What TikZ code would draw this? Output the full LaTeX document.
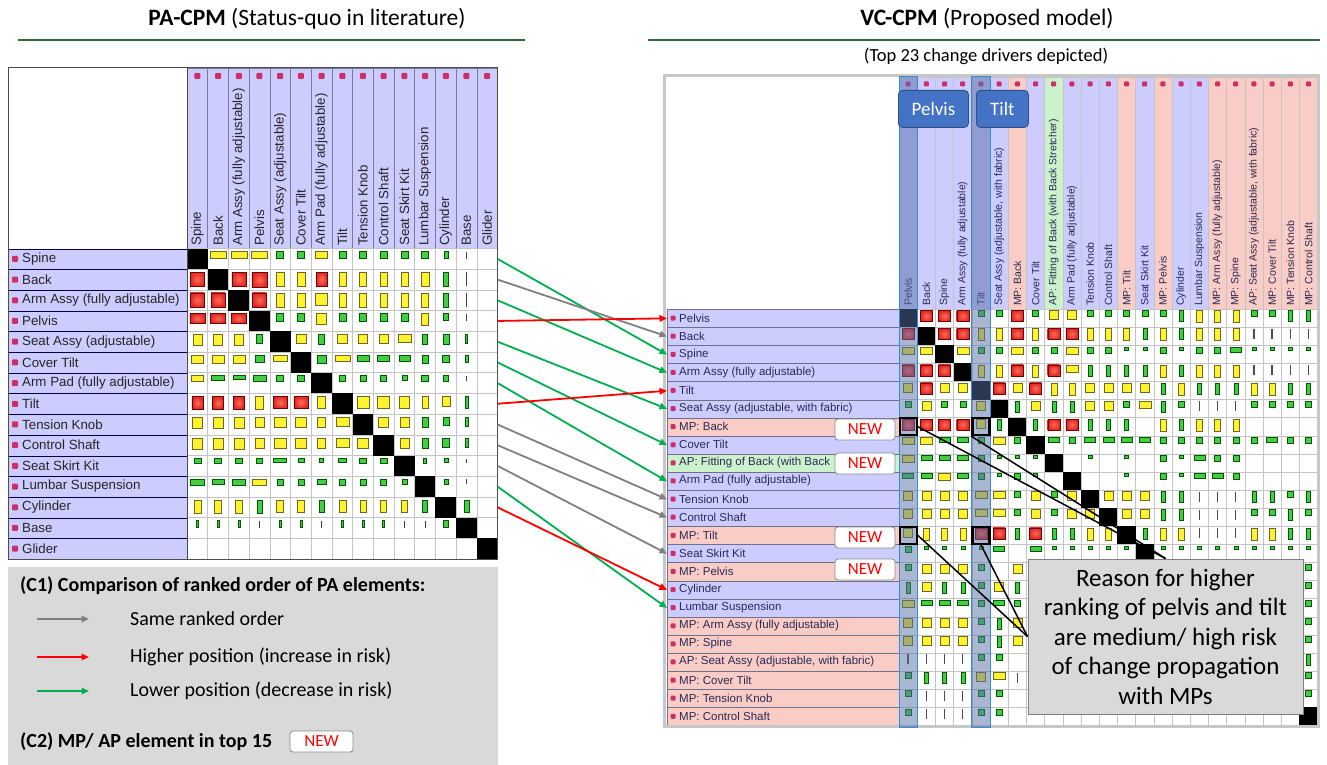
\documentclass[tikz,border=0pt]{standalone}
\usepackage{fontspec}
\setmainfont{Carlito}
\newfontfamily\arialfont{Liberation Sans}
\usetikzlibrary{arrows.meta,positioning,calc}
\definecolor{lavender}{HTML}{CCCCFF}
\definecolor{mppink}{HTML}{F9CCC6}
\definecolor{apgreen}{HTML}{CCF2CC}
\definecolor{dotmag}{HTML}{CC2E66}
\definecolor{rulegreen}{HTML}{2F6B34}
\definecolor{riskred}{HTML}{E02A24}
\definecolor{riskredlight}{HTML}{FF6A5A}
\definecolor{riskyellow}{HTML}{FFF22E}
\definecolor{riskgreen}{HTML}{45CC45}
\definecolor{legendgray}{HTML}{D9D9D9}
\definecolor{arrowgray}{HTML}{808080}
\definecolor{arrowred}{HTML}{FF0000}
\definecolor{arrowgreen}{HTML}{00B050}
\definecolor{tagblue}{HTML}{4472C4}
\definecolor{hlblue}{HTML}{5470A8}
\definecolor{labtext}{HTML}{2A2A55}
\definecolor{gridline}{HTML}{C4C4C4}
\tikzset{
  headtitle/.style={font=\fontsize{23.5}{28}\selectfont},
  subtitle/.style={font=\fontsize{18.5}{22}\selectfont},
  titlerule/.style={draw=rulegreen, line width=2pt},
  legendhead/.style={anchor=west, inner sep=0pt, font=\bfseries\fontsize{20}{24}\selectfont},
  legendtext/.style={anchor=west, inner sep=0pt, font=\fontsize{20}{24}\selectfont},
  % arrows between the two matrices
  rankarrow/.style={line width=1.8pt, -{Triangle[length=7.5pt,width=6.5pt]}},
  samearrow/.style={rankarrow, draw=arrowgray},
  uparrow/.style={rankarrow, draw=arrowred},
  downarrow/.style={rankarrow, draw=arrowgreen},
  mdot/.style={fill=dotmag, inner sep=0pt, minimum size=6pt, rounded corners=1pt},
  % PA-CPM matrix
  paframe/.style={draw=black!70, line width=1pt},
  lgrid/.style={draw=gridline, line width=0.6pt},
  llabel/.style={fill=lavender, draw=black!70!blue, line width=0.8pt, inner sep=0pt,
    minimum width=179pt, minimum height=20.7pt},
  ltext/.style={anchor=west, inner sep=0pt, text=black!85, font=\arialfont\fontsize{13.3}{15}\selectfont},
  lhead/.style={rotate=90, anchor=west, inner sep=0pt, text=black!85, font=\arialfont\fontsize{13.3}{15}\selectfont},
  lcell/.style={anchor=north, inner sep=0pt, outer sep=0pt, line width=0.5pt},
  lc-r/.style={inner color=riskredlight, outer color=riskred, draw=red!45!black},
  lc-y/.style={fill=riskyellow, draw=olive!70!black},
  lc-g/.style={fill=riskgreen, draw=green!35!black},
  lc-d/.style={fill=black!75},
  lc-k/.style={fill=black, yshift=3pt},
  lc-n/.style={},
  % VC-CPM matrix
  rframe/.style={draw=black!22, line width=3pt},
  kind-b/.style={fill=lavender},
  kind-p/.style={fill=mppink},
  kind-a/.style={fill=apgreen},
  rlabel/.style={draw=black!45!lavender, line width=0.6pt, inner sep=0pt,
    minimum width=232pt, minimum height=18.1pt},
  rtext/.style={anchor=west, inner sep=0pt, text=labtext, font=\arialfont\fontsize{11.5}{13}\selectfont},
  rhead/.style={rotate=90, anchor=west, inner sep=0pt, text=labtext, font=\arialfont\fontsize{10.5}{12}\selectfont},
  rc/.style={anchor=north, inner sep=0pt, outer sep=0pt, line width=0.4pt},
  rc-K/.style={fill=black, minimum width=18.2pt, minimum height=18.1pt, yshift=1.5pt},
  rc-R/.style={lc-r, minimum width=12pt, minimum height=11pt},
  rc-Y/.style={lc-y, minimum width=9pt, minimum height=9pt},
  rc-T/.style={lc-y, minimum width=6pt, minimum height=12pt},
  rc-W/.style={lc-y, minimum width=12pt, minimum height=7pt},
  rc-G/.style={lc-g, minimum width=6pt, minimum height=6pt},
  rc-H/.style={lc-g, minimum width=4pt, minimum height=11pt},
  rc-F/.style={lc-g, minimum width=11pt, minimum height=5pt},
  rc-L/.style={fill=black!70, minimum width=1.5pt, minimum height=10pt},
  rc-d/.style={lc-g, minimum width=4pt, minimum height=3pt},
  rc-o/.style={},
  colhl/.style={fill=hlblue, fill opacity=0.5, draw=tagblue!80!cyan, line width=1pt},
  coltag/.style={fill=tagblue, draw=tagblue!70!black, line width=0.8pt, rounded corners=4pt,
    text=white, minimum height=37pt, inner sep=0pt, font=\fontsize{19}{22}\selectfont},
  selbox/.style={draw=black, line width=2.2pt, minimum width=17pt, minimum height=17pt, inner sep=0pt},
  pointer/.style={draw=black, line width=1.5pt},
  newtag/.style={fill=white, draw=black!45, line width=0.8pt, rounded corners=3pt, text=red,
    minimum width=60pt, minimum height=21pt, inner sep=0pt, font=\fontsize{17}{20}\selectfont},
  reasonbox/.style={fill=legendgray, draw=black!50, line width=1pt, align=center,
    minimum width=275pt, minimum height=155pt, inner sep=0pt, font=\fontsize{25}{29.5}\selectfont},
}
\def\vcitems{Pelvis/b, Back/b, Spine/b, Arm Assy (fully adjustable)/b, Tilt/b,
  {Seat Assy (adjustable, with fabric)}/b, MP: Back/p, Cover Tilt/b,
  AP: Fitting of Back (with Back Stretcher)/a, Arm Pad (fully adjustable)/b, Tension Knob/b,
  Control Shaft/b, MP: Tilt/p, Seat Skirt Kit/b, MP: Pelvis/p, Cylinder/b, Lumbar Suspension/b,
  MP: Arm Assy (fully adjustable)/p, MP: Spine/p, {AP: Seat Assy (adjustable, with fabric)}/p,
  MP: Cover Tilt/p, MP: Tension Knob/p, MP: Control Shaft/p}
\def\vcrows{Pelvis/b, Back/b, Spine/b, Arm Assy (fully adjustable)/b, Tilt/b,
  {Seat Assy (adjustable, with fabric)}/b, MP: Back/p, Cover Tilt/b,
  AP: Fitting of Back (with Back/a, Arm Pad (fully adjustable)/b, Tension Knob/b,
  Control Shaft/b, MP: Tilt/p, Seat Skirt Kit/b, MP: Pelvis/p, Cylinder/b, Lumbar Suspension/b,
  MP: Arm Assy (fully adjustable)/p, MP: Spine/p, {AP: Seat Assy (adjustable, with fabric)}/p,
  MP: Cover Tilt/p, MP: Tension Knob/p, MP: Control Shaft/p}
\begin{document}
\begin{tikzpicture}[x=1pt, y=-1pt]
  \useasboundingbox[fill=white] (0,0) rectangle (1327,765);

  % titles
  \node[headtitle] (pa-title) at (307,19) {\textbf{PA-CPM} (Status-quo in literature)};
  \draw[titlerule] (18,40) -- (525,40);
  \node[headtitle] (vc-title) at (987,19) {\textbf{VC-CPM} (Proposed model)};
  \draw[titlerule] (648,40) -- (1320,40);
  \node[subtitle] (vc-sub) at (986,56) {(Top 23 change drivers depicted)};

  % ---------------- PA-CPM ----------------
  \path[fill=white] (8,68) rectangle (187,248.5);
  \foreach [count=\c] \lab in {Spine, Back, Arm Assy (fully adjustable), Pelvis, Seat Assy (adjustable),
      Cover Tilt, Arm Pad (fully adjustable), Tilt, Tension Knob, Control Shaft, Seat Skirt Kit,
      Lumbar Suspension, Cylinder, Base, Glider}{
    \pgfmathsetmacro\xa{187+(\c-1)*20.7}
    \path[fill=lavender, draw=black!40!lavender, line width=0.6pt] (\xa,68) rectangle ++(20.7,180.5);
    \node[mdot] (pd-\c) at (\xa+10.35,76) {};
    \node[lhead] (ph-\c) at (\xa+10.35,246) {\lab};
  }
  \foreach [count=\r] \lab in {Spine, Back, Arm Assy (fully adjustable), Pelvis, Seat Assy (adjustable),
      Cover Tilt, Arm Pad (fully adjustable), Tilt, Tension Knob, Control Shaft, Seat Skirt Kit,
      Lumbar Suspension, Cylinder, Base, Glider}{
    \pgfmathsetmacro\ya{248.5+(\r-1)*20.7}
    \node[llabel, anchor=north west] (llab-\r) at (8,\ya) {};
    \node[mdot] (ldot-\r) at (15,\ya+10.35) {};
    \node[ltext] (ltxt-\r) at (22,\ya+10.35) {\lab};
    \coordinate (lend-\r) at (497.5,\ya+10.35);
  }
  \foreach \i in {0,...,15}{
    \draw[lgrid] (187+\i*20.7,248.5) -- (187+\i*20.7,559);
    \draw[lgrid] (187,248.5+\i*20.7) -- (497.5,248.5+\i*20.7);
  }
  \foreach [count=\r] \marks in {
    {k/20.7/20.7, y/16/7, y/16/7, y/16/7, g/7/7, g/7/7, y/12/7, g/7/7, g/7/7, g/7/7, g/7/7, g/7/7, g/4/7, d/1.5/7, n/0/0},
    {r/14/14, k/20.7/20.7, r/14/14, r/15/15, y/8/14, y/8/14, r/11/14, y/7/14, y/7/14, y/7/14, y/7/14, y/8/14, g/5/14, d/1.5/14, n/0/0},
    {r/14/14, r/14/14, k/20.7/20.7, r/14/14, y/8/14, y/8/14, y/12/12, y/7/14, y/7/14, y/7/14, y/7/14, y/7/14, g/5/14, d/1.5/14, n/0/0},
    {r/15/10, r/15/10, r/15/10, k/20.7/20.7, g/7/8, g/7/8, y/10/11, g/7/8, g/7/8, g/7/8, g/7/8, y/7/12, g/5/7, d/1.5/7, n/0/0},
    {y/9/11, y/9/11, y/9/11, g/6/9, k/20.7/20.7, y/10/9, g/6/10, y/10/9, y/9/9, y/9/9, y/13/8, g/5/10, g/6/10, g/2/9, n/0/0},
    {y/12/8, y/12/8, y/12/8, g/9/7, y/14/6, k/20.7/20.7, g/9/8, y/15/6, g/12/6, g/12/6, g/11/6, g/6/8, g/7/7, g/3/7, n/0/0},
    {y/12/6, g/13/5, g/12/4, g/13/6, g/7/6, g/7/6, k/20.7/20.7, g/6/6, g/6/6, g/6/6, g/5/5, g/7/6, g/5/6, d/1.5/5, n/0/0},
    {r/11/13, r/11/13, r/11/13, y/8/13, r/14/12, r/14/12, y/8/12, k/20.7/20.7, y/12/12, y/12/12, y/10/12, y/6/12, y/8/10, g/3/12, n/0/0},
    {y/10/11, y/10/11, y/10/11, y/9/10, y/12/10, y/11/10, y/8/10, y/13/9, k/20.7/20.7, y/10/10, y/9/10, g/6/10, g/6/8, g/3/9, n/0/0},
    {y/10/11, y/10/11, y/10/11, y/9/10, y/12/10, y/11/10, y/8/10, y/13/9, y/11/10, k/20.7/20.7, y/9/10, g/6/10, g/7/9, g/3/9, n/0/0},
    {g/7/5, g/7/5, g/7/5, g/6/5, g/13/4, g/6/4, g/4/4, g/8/4, g/7/5, g/7/5, k/20.7/20.7, g/3/5, g/4/4, d/1.5/4, n/0/0},
    {g/14/6, g/12/5, g/13/6, y/14/6, g/6/6, g/6/6, g/9/5, g/6/6, g/6/6, g/6/6, g/5/5, k/20.7/20.7, g/4/5, d/1.5/5, n/0/0},
    {y/7/13, y/7/13, y/7/13, g/5/13, y/7/12, y/7/12, g/5/12, y/7/12, y/6/12, y/6/12, y/6/12, g/5/12, k/20.7/20.7, g/5/12, n/0/0},
    {g/2/7, g/2/7, g/2/7, d/1.5/7, g/2/7, g/2/7, d/1.5/7, g/2/7, g/2/7, g/2/7, d/1.5/7, d/1/7, g/5/7, k/20.7/20.7, n/0/0},
    {n/0/0, n/0/0, n/0/0, n/0/0, n/0/0, n/0/0, n/0/0, n/0/0, n/0/0, n/0/0, n/0/0, n/0/0, n/0/0, n/0/0, k/20.7/20.7}}{
    \foreach [count=\c] \t/\w/\h in \marks{
      \node[lcell, minimum width=\w pt, minimum height=\h pt, lc-\t] (pa-\r-\c)
        at ({187+(\c-0.5)*20.7},{248.5+(\r-1)*20.7+3}) {};
    }
  }
  \draw[paframe] (8,68) rectangle (497.5,559);
  \draw[paframe] (187,68) -- (187,559);

  % legend
  \path[fill=legendgray] (8,567) rectangle (498,765);
  \node[legendhead] (c1-head) at (20,586) {(C1) Comparison of ranked order of PA elements:};
  \coordinate (same-a) at (37,619);   \coordinate (same-b) at (89,619);
  \coordinate (up-a) at (37,657);     \coordinate (up-b) at (89,657);
  \coordinate (down-a) at (37,691);   \coordinate (down-b) at (89,691);
  \draw[samearrow] (same-a) -- (same-b);
  \draw[uparrow] (up-a) -- (up-b);
  \draw[downarrow] (down-a) -- (down-b);
  \node[legendtext] (same-txt) at (130,619) {Same ranked order};
  \node[legendtext] (up-txt) at (130,657) {Higher position (increase in risk)};
  \node[legendtext] (down-txt) at (130,691) {Lower position (decrease in risk)};
  \node[legendhead] (c2-head) at (20,742) {(C2) MP/ AP element in top 15};
  \node[newtag, minimum width=63pt] (new-legend) at (321.5,741.5) {NEW};

  % ---------------- VC-CPM ----------------
  \path[fill=white] (667,77) rectangle (899,309);
  \foreach [count=\c] \lab/\kind in \vcitems{
    \pgfmathsetmacro\xa{899+(\c-1)*18.2}
    \path[kind-\kind, draw=gridline, line width=0.5pt] (\xa,77) rectangle ++(18.2,232);
    \node[mdot, minimum size=5pt] (rd-\c) at (\xa+9.1,84) {};
    \node[rhead] (rh-\c) at (\xa+9.1,306) {\lab};
  }
  \foreach [count=\r] \lab/\kind in \vcrows{
    \pgfmathsetmacro\ya{309+(\r-1)*18.1}
    \node[rlabel, kind-\kind, anchor=north west] (rlab-\r) at (667,\ya) {};
    \node[mdot, minimum size=5pt] (rdot-\r) at (673,\ya+9.05) {};
    \node[rtext] (rtxt-\r) at (679,\ya+9.05) {\lab};
  }
  \foreach \i in {0,...,23}{
    \draw[lgrid, line width=0.4pt] (899+\i*18.2,309) -- (899+\i*18.2,725.3);
    \draw[lgrid, line width=0.4pt] (899,309+\i*18.1) -- (1317.6,309+\i*18.1);
  }
  \foreach [count=\r] \marks in {
    {K,R,R,R,G,G,R,G,Y,Y,G,G,G,G,G,H,T,T,T,G,G,H,H},
    {R,K,R,R,T,T,R,T,R,R,T,T,T,H,T,H,T,T,T,L,L,L,L},
    {W,W,K,W,G,G,W,G,G,W,G,G,d,d,G,d,G,G,F,d,d,d,d},
    {R,R,R,K,T,T,R,T,R,W,H,H,H,H,T,H,T,T,T,L,L,L,L},
    {Y,R,Y,Y,K,R,Y,R,T,T,Y,Y,Y,Y,H,T,H,H,H,T,T,H,H},
    {G,Y,G,G,Y,K,H,Y,H,H,Y,Y,G,W,H,G,L,L,L,G,G,G,G},
    {R,R,R,R,Y,H,K,H,R,R,H,H,H,o,T,H,T,T,T,o,o,o,o},
    {W,W,F,F,G,W,G,K,F,G,F,F,F,F,G,G,G,G,G,G,F,G,G},
    {W,F,F,F,G,d,d,d,K,o,d,o,d,o,G,d,F,G,G,o,o,o,o},
    {F,F,W,F,G,d,G,d,o,K,o,o,d,o,G,d,F,F,G,o,o,o,o},
    {Y,Y,Y,Y,W,W,G,Y,G,Y,K,Y,Y,Y,H,H,L,L,L,H,H,G,H},
    {Y,Y,Y,Y,W,W,G,Y,G,Y,Y,K,Y,Y,H,H,L,L,L,G,G,H,G},
    {Y,T,T,T,R,R,H,R,H,H,T,T,K,H,T,T,L,L,L,T,T,H,H},
    {G,d,d,d,d,F,o,F,d,d,d,d,d,K,d,d,d,d,d,d,d,d,d},
    {G,Y,Y,Y,G,o,Y,o,o,o,o,o,o,o,K,o,o,o,o,o,o,o,G},
    {H,Y,H,H,G,Y,H,o,o,o,o,o,o,o,o,K,o,o,o,o,o,o,G},
    {W,F,F,F,G,F,G,o,o,o,o,o,o,o,o,o,K,o,o,o,o,o,G},
    {Y,Y,Y,Y,G,H,Y,o,o,o,o,o,o,o,o,o,o,K,o,o,o,o,G},
    {Y,Y,Y,Y,G,H,Y,o,o,o,o,o,o,o,o,o,o,o,K,o,o,o,G},
    {L,L,L,L,G,G,o,o,o,o,o,o,o,o,o,o,o,o,o,K,o,o,H},
    {G,H,H,H,Y,W,L,o,o,o,o,o,o,o,o,o,o,o,o,o,K,o,G},
    {G,L,L,L,G,G,o,o,o,o,o,o,o,o,o,o,o,o,o,o,o,K,G},
    {G,L,L,L,G,G,o,d,d,d,d,d,d,d,d,d,d,d,d,d,d,d,K}}{
    \foreach [count=\c] \m in \marks{
      \node[rc, rc-\m] (vc-\r-\c) at ({899+(\c-0.5)*18.2},{309+(\r-1)*18.1+1.5}) {};
    }
  }
  \draw[rframe] (664.5,75.5) rectangle (1318.5,726.5);

  % highlighted columns and tags
  \path[colhl] (899,77) rectangle (917.2,727);
  \path[colhl] (971.8,77) rectangle (990,727);
  \node[coltag, minimum width=70pt, anchor=north west] (pelvis-tag) at (898,90) {Pelvis};
  \node[coltag, minimum width=52pt, anchor=north west] (tilt-tag) at (976,90) {Tilt};

  % MP cells behind the higher ranking
  \node[selbox] (sel-back-pelvis) at (908.1,426.65) {};
  \node[selbox] (sel-back-tilt) at (980.9,426.65) {};
  \node[selbox] (sel-tilt-pelvis) at (908.1,535.25) {};
  \node[selbox] (sel-tilt-tilt) at (980.9,535.25) {};
  \node[reasonbox] (reason) at (1165.5,636.5) {Reason for higher\\ranking of pelvis and tilt\\are medium/ high risk\\of change propagation\\with MPs};
  \draw[pointer] (sel-back-pelvis.east) -- (reason.north);
  \draw[pointer] (sel-back-tilt.south west) -- (reason.north);
  \draw[pointer] (sel-tilt-pelvis.east) -- (reason.west);
  \draw[pointer] (sel-tilt-tilt.south) -- (reason.west);

  \node[newtag] (new-back) at (865,429.5) {NEW};
  \node[newtag] (new-fit) at (865,463.5) {NEW};
  \node[newtag] (new-tilt) at (865,537.5) {NEW};
  \node[newtag] (new-pelvis) at (865,569.5) {NEW};

  % ranked order comparison
  \draw[downarrow] (lend-1) -- (rlab-3.west);
  \draw[samearrow] (lend-2) -- (rlab-2.west);
  \draw[downarrow] (lend-3) -- (rlab-4.west);
  \draw[uparrow] (lend-4) -- (rlab-1.west);
  \draw[downarrow] (lend-5) -- (rlab-6.west);
  \draw[downarrow] (lend-6) -- (rlab-8.west);
  \draw[downarrow] (lend-7) -- (rlab-10.west);
  \draw[uparrow] (lend-8) -- (rlab-5.west);
  \draw[samearrow] (lend-9) -- (rlab-11.west);
  \draw[samearrow] (lend-10) -- (rlab-12.west);
  \draw[samearrow] (lend-11) -- (rlab-14.west);
  \draw[downarrow] (lend-12) -- (rlab-17.west);
  \draw[uparrow] (lend-13) -- (rlab-16.west);
\end{tikzpicture}
\end{document}
